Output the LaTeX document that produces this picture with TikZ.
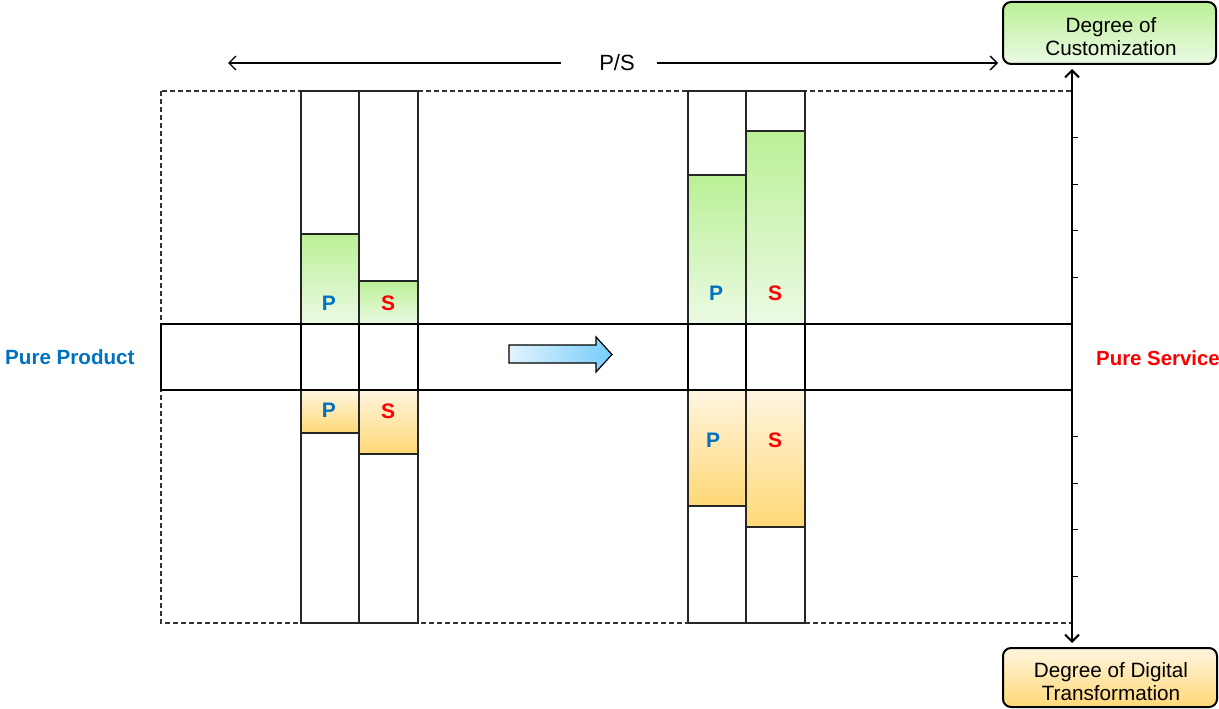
\documentclass[tikz,border=0pt]{standalone}
\usepackage{fontspec}
\setmainfont{Liberation Sans}
\usetikzlibrary{arrows.meta}
\definecolor{pblue}{RGB}{0,112,192}
\definecolor{sred}{RGB}{255,0,0}
\definecolor{gtop}{RGB}{186,240,150}
\definecolor{gbot}{RGB}{236,250,228}
\definecolor{otop}{RGB}{255,245,224}
\definecolor{obot}{RGB}{255,216,118}
\definecolor{aleft}{RGB}{226,243,253}
\definecolor{aright}{RGB}{118,204,250}
\tikzset{
  colbox/.style={draw=black!85, line width=1.3},
  gbar/.style={draw=black!85, line width=1.3, top color=gtop, bottom color=gbot},
  obar/.style={draw=black!85, line width=1.3, top color=otop, bottom color=obot},
  bandline/.style={line width=2.8},
  plab/.style={text=pblue, font=\fontsize{21}{24}\selectfont\bfseries, inner sep=0},
  slab/.style={text=sred, font=\fontsize{21}{24}\selectfont\bfseries, inner sep=0},
  degbox/.style={draw, line width=2, rounded corners=8, inner sep=0},
  degtext/.style={align=center, inner sep=0, font=\fontsize{20.7}{23}\selectfont},
  barb/.style={-{Straight Barb[length=7,width=14]}, line width=1.3},
  axisarrow/.style={{Straight Barb[length=7,width=14]}-{Straight Barb[length=7,width=14]}, line width=2},
}
\begin{document}
\begin{tikzpicture}[x=1pt,y=-1pt]
\useasboundingbox (0,0) rectangle (1219,709);
% dashed frame
\draw[dash pattern=on 5pt off 3pt, line width=1.2, black!80] (161,91) rectangle (1072,623);
% left columns
\path[gbar] (301,234) rectangle (359,324);
\path[gbar] (359,281) rectangle (418,324);
\path[obar] (301,390) rectangle (359,433);
\path[obar] (359,390) rectangle (418,454);
\draw[colbox] (301,91) rectangle (359,623);
\draw[colbox] (359,91) rectangle (418,623);
% right columns
\path[gbar] (688,175) rectangle (746,324);
\path[gbar] (746,131) rectangle (805,324);
\path[obar] (688,390) rectangle (746,506);
\path[obar] (746,390) rectangle (805,527);
\draw[colbox] (688,91) rectangle (746,623);
\draw[colbox] (746,91) rectangle (805,623);
% band
\draw[bandline] (161,324) rectangle (1072,390);
\foreach \x in {301,359,418,688,746,805} \draw[bandline] (\x,324) -- (\x,390);
% labels in bars
\node[plab] (p1) at (329,303) {P};
\node[slab] (s1) at (388,303) {S};
\node[plab] (p2) at (329,410) {P};
\node[slab] (s2) at (388,411) {S};
\node[plab] (p3) at (716,293) {P};
\node[slab] (s3) at (775,293) {S};
\node[plab] (p4) at (713,440) {P};
\node[slab] (s4) at (775,440) {S};
% block arrow
\draw[line width=1.2, left color=aleft, right color=aright]
  (509,345) -- (596,345) -- (596,337) -- (612,354.5) -- (596,372) -- (596,363) -- (509,363) -- cycle;
% side labels
\node[anchor=west, text=pblue, font=\fontsize{20.6}{24}\selectfont\bfseries, inner sep=0] (pp) at (5,357) {Pure Product};
\node[anchor=west, text=sred, font=\fontsize{20.4}{24}\selectfont\bfseries, inner sep=0] (ps2) at (1096,358) {Pure Service};
% P/S arrow
\node[font=\fontsize{22}{24}\selectfont, inner sep=0] (ps) at (617,63) {P/S};
\coordinate (psL) at (228,63);
\coordinate (psR) at (998,63);
\draw[barb] ([xshift=-38pt]ps.west) -- (psL);
\draw[barb] ([xshift=22pt]ps.east) -- (psR);
% degree boxes
\node[degbox, minimum width=213, minimum height=62, top color=gtop, bottom color=gbot] (cust) at (1109.5,33) {};
\node[degtext] (custt) at (1111,36.5) {Degree of\\Customization};
\node[degbox, minimum width=214, minimum height=59, top color=otop, bottom color=obot] (dig) at (1110,677.5) {};
\node[degtext] (digt) at (1111,681.5) {Degree of Digital\\Transformation};
% axis
\coordinate (ax) at (1072,0);
\draw[axisarrow, shorten <=4, shorten >=4] (cust.south -| ax) -- (dig.north -| ax);
\foreach \y in {137.6,184.2,230.8,277.4,436.6,483.2,529.8,576.4} \draw[line width=1] (1072,\y) -- (1078,\y);
\end{tikzpicture}
\end{document}
